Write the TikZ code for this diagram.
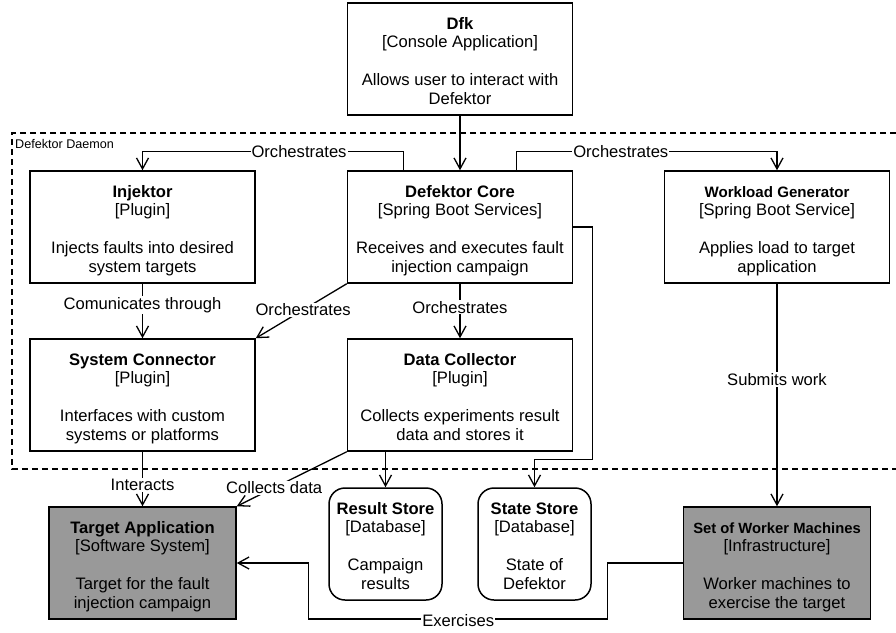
\documentclass[tikz,border=0pt]{standalone}
\usepackage{fontspec}
\setmainfont{Liberation Sans}
\usetikzlibrary{arrows.meta,calc}

\definecolor{sysgray}{RGB}{153,153,153}

% title / [technology] / blank line / two lines of description;
% the invisible rules give the text block the same padding in every box
\newcommand{\boxtext}[4]{\rule{0pt}{20pt}\textbf{#1}\\{}[#2]\\[18.8pt]#3\\#4\rule[-4.8pt]{0pt}{4.8pt}}

\tikzset{
  base/.style={draw=black, line width=1.5pt, align=center, inner sep=0pt,
    minimum height=112pt, font=\fontsize{16.6}{18.8}\selectfont},
  container/.style={base, minimum width=225pt},
  ext/.style={base, fill=sysgray, minimum width=187pt},
  store/.style={base, rounded corners=16pt, minimum width=113pt},
  link/.style={line width=1.3pt, -{Straight Barb[length=11pt,width=12pt]}},
  lbl/.style={fill=white, inner sep=1pt, font=\fontsize{16.6}{18.8}\selectfont},
  boundary/.style={line width=1.5pt, dash pattern=on 6pt off 4pt}
}

\begin{document}
\begin{tikzpicture}[x=1pt,y=-1pt]
\useasboundingbox (0,0) rectangle (896,632);

% system boundary (open on the right)
\draw[boundary] (896,133) -- (12,133) -- (12,469) -- (896,469);
\node[anchor=west, inner sep=0pt, font=\fontsize{12.6}{14}\selectfont] (daemon) at (15,144) {Defektor Daemon};

% containers
\node[container] (dfk)  at (460,59)   {\boxtext{Dfk}{Console Application}{Allows user to interact with}{Defektor}};
\node[container] (inj)  at (142.5,227) {\boxtext{Injektor}{Plugin}{Injects faults into desired}{system targets}};
\node[container] (core) at (460,227)   {\boxtext{Defektor Core}{Spring Boot Services}{Receives and executes fault}{injection campaign}};
\node[container] (wg)   at (777,227)   {\boxtext{\fontsize{15.1}{18.8}\selectfont Workload Generator}{Spring Boot Service}{Applies load to target}{application}};
\node[container] (sc)   at (142.5,395) {\boxtext{System Connector}{Plugin}{Interfaces with custom}{systems or platforms}};
\node[container] (dc)   at (460,395)   {\boxtext{Data Collector}{Plugin}{Collects experiments result}{data and stores it}};

% external systems and stores
\node[ext]   (ta) at (142.5,563) {\boxtext{Target Application}{Software System}{Target for the fault}{injection campaign}};
\node[store] (rs) at (385.5,544) {\boxtext{Result Store}{Database}{Campaign}{results}};
\node[store] (ss) at (534.5,544) {\boxtext{State Store}{Database}{State of}{Defektor}};
\node[ext]   (wm) at (777,563)   {\boxtext{\fontsize{14.8}{18.8}\selectfont Set of Worker Machines}{Infrastructure}{Worker machines to}{exercise the target}};

% relations
\draw[link] (dfk.south) -- (core.north);
\draw[link] ($(core.north west)!.25!(core.north east)$) |- node[lbl,pos=.7] (l1) {Orchestrates} ($(inj.north)+(0,-19)$) -- (inj.north);
\draw[link] ($(core.north west)!.75!(core.north east)$) |- node[lbl,pos=.7] (l2) {Orchestrates} ($(wg.north)+(0,-19)$) -- (wg.north);
\draw[link] (inj.south) -- node[lbl,pos=.39] (l3) {Comunicates through} (sc.north);
\draw[link] (core.south west) -- node[lbl,pos=.48] (l4) {Orchestrates} (sc.north east);
\draw[link] (core.south) -- node[lbl,pos=.43] (l5) {Orchestrates} (dc.north);
\draw[link] (core.east) -- ++(19,0) |- ($(ss.north)+(0,-28)$) -- (ss.north);
\draw[link] (rs.north |- dc.south) -- (rs.north);
\draw[link] (dc.south west) -- node[lbl,pos=.66] (l6) {Collects data} (ta.north east);
\draw[link] (sc.south) -- node[lbl,pos=.61] (l7) {Interacts} (ta.north);
\draw[link] (wg.south) -- node[lbl,pos=.43] (l8) {Submits work} (wm.north);
\draw[link] (wm.west) -- ++(-75,0) -- ++(0,56) -- node[lbl,yshift=-2pt] (l9) {Exercises} ++(-299,0) -- ++(0,-56) -- (ta.east);
\end{tikzpicture}
\end{document}
